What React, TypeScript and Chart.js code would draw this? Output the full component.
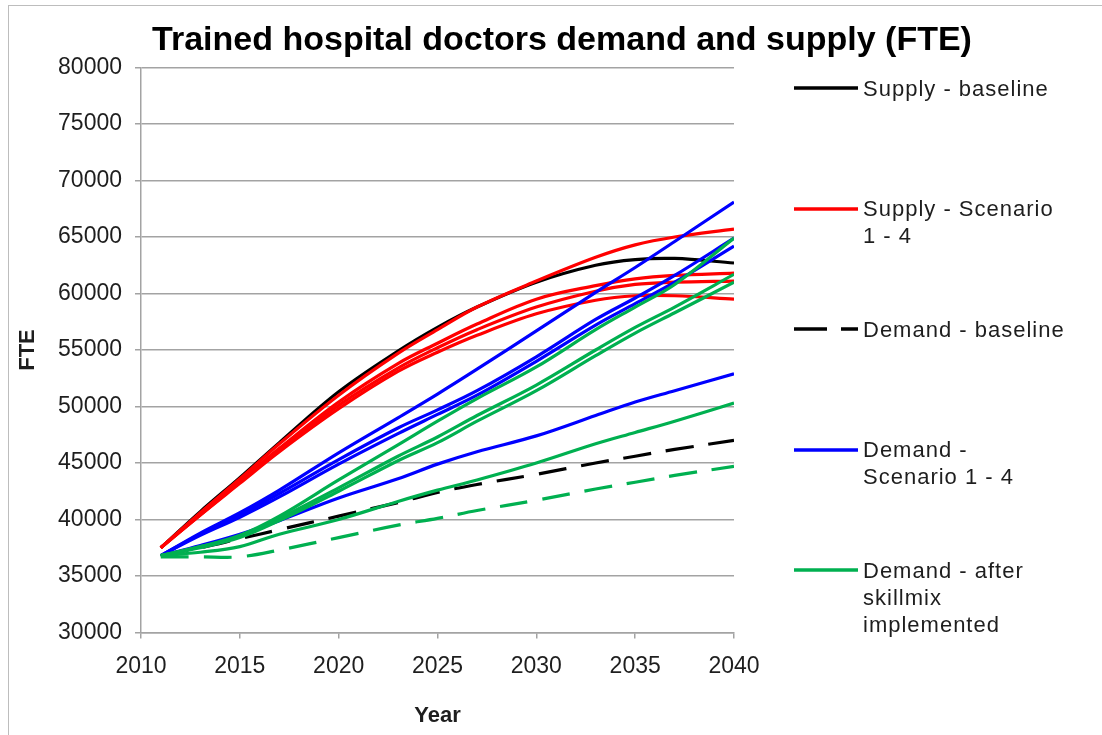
import React, { useEffect, useRef } from 'react';
import { Chart, registerables } from 'chart.js';

Chart.register(...registerables);

const TITLE = 'Trained hospital doctors demand and supply (FTE)';
const X_TITLE = 'Year';
const Y_TITLE = 'FTE';

const YEARS = [2011, 2013, 2015, 2017, 2020, 2023, 2025, 2027, 2030, 2033, 2035, 2037, 2040];

const SUPPLY_BASELINE = [37500, 40700, 43700, 46800, 51300, 54900, 57000, 58800, 61000, 62500, 63000, 63100, 62700];
const SUPPLY_S1 = [37500, 40600, 43600, 46700, 51000, 54700, 56800, 58800, 61100, 63200, 64300, 65000, 65700];
const SUPPLY_S2 = [37500, 40500, 43400, 46300, 50400, 53800, 55600, 57300, 59500, 60700, 61300, 61600, 61800];
const SUPPLY_S3 = [37500, 40400, 43300, 46100, 50100, 53400, 55200, 56800, 58800, 60200, 60800, 61000, 61100];
const SUPPLY_S4 = [37500, 40400, 43200, 46000, 49800, 53100, 54800, 56300, 58200, 59400, 59800, 59800, 59500];

const DEMAND_BASELINE = [36800, 37500, 38300, 39100, 40300, 41500, 42400, 43100, 44000, 45000, 45600, 46200, 47000];
const DEMAND_S1 = [36800, 38800, 40600, 42600, 45900, 49000, 51100, 53300, 56700, 60100, 62300, 64600, 68100];
const DEMAND_S2 = [36800, 38700, 40400, 42300, 45300, 48100, 49700, 51400, 54400, 57700, 59600, 61600, 64900];
const DEMAND_S3 = [36800, 38600, 40200, 42000, 44900, 47600, 49300, 51000, 54000, 57200, 59100, 61000, 64200];
const DEMAND_S4 = [36800, 37700, 38700, 39900, 41900, 43600, 44900, 46000, 47400, 49200, 50400, 51400, 52900];

const SKILLMIX_BASELINE = [36700, 36700, 36700, 37300, 38400, 39500, 40100, 40800, 41700, 42700, 43300, 43900, 44700];
const SKILLMIX_S1 = [36800, 37600, 38600, 40300, 43500, 46600, 48700, 50700, 53500, 56800, 58800, 60800, 64900];
const SKILLMIX_S2 = [36800, 37600, 38500, 40100, 42800, 45600, 47300, 49200, 51900, 55000, 57000, 58800, 61700];
const SKILLMIX_S3 = [36800, 37500, 38400, 39900, 42500, 45200, 46800, 48700, 51400, 54500, 56500, 58300, 61000];
const SKILLMIX_S4 = [36800, 37100, 37600, 38700, 40000, 41600, 42600, 43500, 45000, 46700, 47700, 48700, 50300];

const X_TICKS = [2010, 2015, 2020, 2025, 2030, 2035, 2040];
const Y_MIN = 30000;
const Y_MAX = 80000;
const Y_STEP = 5000;

const BLACK = '#000000';
const RED = '#ff0000';
const BLUE = '#0000ff';
const GREEN = '#00b050';

const LEGEND_ITEMS = [
  { lines: ['Supply - baseline'], color: BLACK, dashed: false },
  { lines: ['Supply - Scenario', '1 - 4'], color: RED, dashed: false },
  { lines: ['Demand - baseline'], color: BLACK, dashed: true },
  { lines: ['Demand -', 'Scenario 1 - 4'], color: BLUE, dashed: false },
  { lines: ['Demand - after', 'skillmix', 'implemented'], color: GREEN, dashed: false },
];

const SERIES = [
  { values: SUPPLY_BASELINE, color: BLACK, dashed: false },
  { values: SUPPLY_S1, color: RED, dashed: false },
  { values: SUPPLY_S2, color: RED, dashed: false },
  { values: SUPPLY_S3, color: RED, dashed: false },
  { values: SUPPLY_S4, color: RED, dashed: false },
  { values: DEMAND_BASELINE, color: BLACK, dashed: true },
  { values: DEMAND_S1, color: BLUE, dashed: false },
  { values: DEMAND_S2, color: BLUE, dashed: false },
  { values: DEMAND_S3, color: BLUE, dashed: false },
  { values: DEMAND_S4, color: BLUE, dashed: false },
  { values: SKILLMIX_BASELINE, color: GREEN, dashed: true },
  { values: SKILLMIX_S1, color: GREEN, dashed: false },
  { values: SKILLMIX_S2, color: GREEN, dashed: false },
  { values: SKILLMIX_S3, color: GREEN, dashed: false },
  { values: SKILLMIX_S4, color: GREEN, dashed: false },
];

const FONT = "'Liberation Sans', Arial, sans-serif";
const GRID = '#a3a3a3';
const TEXT = '#1e1e1e';

export default function App() {
  const canvasRef = useRef<HTMLCanvasElement | null>(null);

  useEffect(() => {
    const canvas = canvasRef.current;
    if (!canvas) return;
    const chart = new Chart(canvas, {
      type: 'line',
      data: {
        datasets: SERIES.map((s, i) => ({
          data: YEARS.map((yr, k) => ({ x: yr, y: s.values[k] })),
          borderColor: s.color,
          backgroundColor: s.color,
          borderWidth: 3.2,
          borderDash: s.dashed ? [28, 15] : [],
          pointRadius: 0,
          fill: false,
          tension: 0.35,
          order: -i,
        })),
      },
      options: {
        responsive: false,
        animation: false,
        layout: { padding: { left: 0, top: 67.5, right: 368, bottom: 0 } },
        plugins: {
          legend: { display: false },
          title: { display: false },
          tooltip: { enabled: false },
        },
        scales: {
          x: {
            type: 'linear',
            min: 2010,
            max: 2040,
            afterFit: (scale: any) => { scale.height = 102.5; },
            afterBuildTicks: (scale: any) => { scale.ticks = X_TICKS.map((v) => ({ value: v })); },
            ticks: {
              color: TEXT,
              font: { family: FONT, size: 23 },
              padding: 14,
              maxRotation: 0,
              callback: (v: any) => String(v),
            },
            grid: { drawOnChartArea: false, drawTicks: true, tickLength: 6, color: GRID, lineWidth: 1.5 },
            border: { display: true, color: GRID, width: 1.5 },
            title: {
              display: true,
              text: X_TITLE,
              color: TEXT,
              font: { family: FONT, size: 22, weight: 'bold' },
              padding: { top: 0, bottom: 6 },
            },
          },
          y: {
            type: 'linear',
            min: Y_MIN,
            max: Y_MAX,
            afterFit: (scale: any) => { scale.width = 141; },
            ticks: {
              stepSize: Y_STEP,
              color: TEXT,
              font: { family: FONT, size: 23 },
              padding: 13,
              callback: (v: any) => String(v),
            },
            grid: { color: GRID, lineWidth: 1.5, tickLength: 6, drawTicks: true },
            border: { display: true, color: GRID, width: 1.5 },
            title: {
              display: true,
              text: Y_TITLE,
              color: TEXT,
              font: { family: FONT, size: 22, weight: 'bold' },
              padding: { top: 15, bottom: 0 },
            },
          },
        },
      } as any,
    });
    return () => chart.destroy();
  }, []);

  return (
    <div style={{ position: 'fixed', left: 0, top: 0, width: 1102, height: 735, background: '#fff', overflow: 'hidden' }}>
      <div style={{ position: 'absolute', left: 8, top: 5, width: 1200, height: 800, borderLeft: '1.5px solid #bdbdbd', borderTop: '1.5px solid #bdbdbd' }} />
      <canvas ref={canvasRef} width={1102} height={735} style={{ position: 'absolute', left: 0, top: 0 }} />
      <div style={{ position: 'absolute', left: 0, top: 18, width: 1124, textAlign: 'center', fontFamily: FONT, fontWeight: 'bold', fontSize: 34, lineHeight: '40px', color: '#000', whiteSpace: 'nowrap' }}>
        {TITLE}
      </div>
      {LEGEND_ITEMS.map((item, i) => {
        const cy = 88 + i * 120.5;
        return (
          <div key={i}>
            <svg style={{ position: 'absolute', left: 792, top: cy - 4 }} width={68} height={8}>
              <line x1={2} y1={4} x2={66} y2={4} stroke={item.color} strokeWidth={3.5} strokeDasharray={item.dashed ? '33 14' : undefined} />
            </svg>
            <div style={{ position: 'absolute', left: 863, top: cy - 13.5, fontFamily: FONT, fontSize: 22, lineHeight: '27px', letterSpacing: '1px', color: TEXT, whiteSpace: 'nowrap' }}>
              {item.lines.map((ln, j) => (<div key={j}>{ln}</div>))}
            </div>
          </div>
        );
      })}
    </div>
  );
}
